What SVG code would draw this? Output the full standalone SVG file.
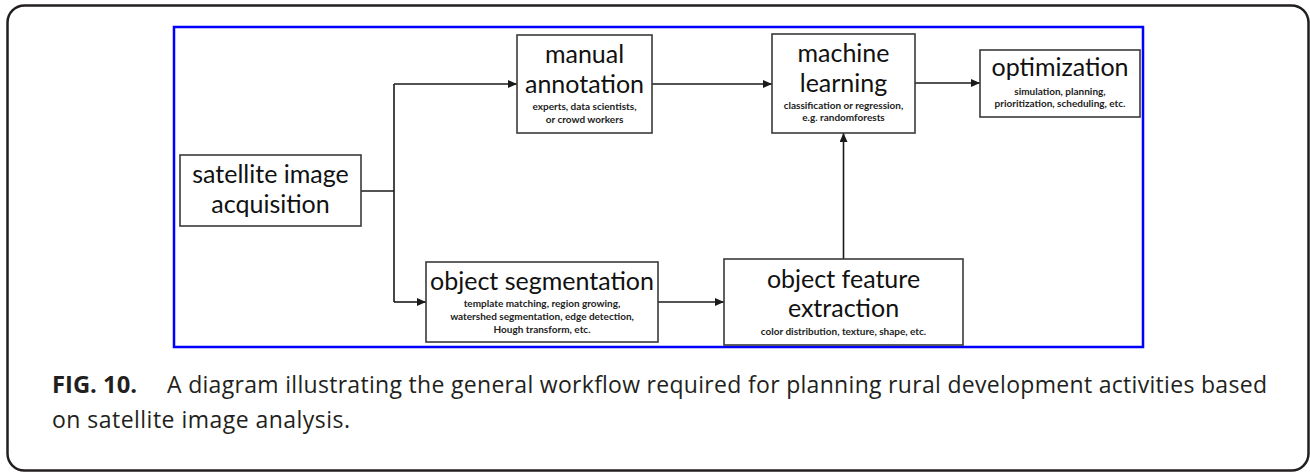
<svg xmlns="http://www.w3.org/2000/svg" width="1310" height="472" viewBox="0 0 1310 472">
<defs>
<marker id="ah" markerWidth="10" markerHeight="8" refX="9" refY="4" orient="auto" markerUnits="userSpaceOnUse">
<path d="M0,0 L9,4 L0,8 Z" fill="#1a1a1a"/>
</marker>
<style>
.box{fill:#fff;stroke:#3a3a3a;stroke-width:1.6}
.t{font-family:Lato,"Open Sans",sans-serif;font-size:25px;fill:#111;text-anchor:middle}
.s{font-family:Lato,"Open Sans",sans-serif;font-size:10px;font-weight:bold;fill:#222;text-anchor:middle}
.c{fill:none;stroke:#1a1a1a;stroke-width:1.6}
.cap{font-family:"Open Sans","Noto Sans",sans-serif;font-size:23px;fill:#231f20}
</style>
</defs>
<rect x="7.5" y="5.5" width="1301" height="465" rx="17" fill="#fff" stroke="#231f20" stroke-width="2.5"/>
<rect x="174" y="27" width="969" height="320" fill="none" stroke="#0000ff" stroke-width="2.5"/>
<g id="connectors">
<polyline class="c" points="361,191 394,191"/>
<polyline class="c" points="394,84 394,302"/>
<polyline class="c" points="394,84 517,84" marker-end="url(#ah)"/>
<polyline class="c" points="394,302 426,302" marker-end="url(#ah)"/>
<polyline class="c" points="652,84 772,84" marker-end="url(#ah)"/>
<polyline class="c" points="915,83 980,83" marker-end="url(#ah)"/>
<polyline class="c" points="658,302 724,302" marker-end="url(#ah)"/>
<polyline class="c" points="843.5,259 843.5,133" marker-end="url(#ah)"/>
</g>
<g id="satellite">
<rect class="box" x="180" y="155" width="181" height="71"/>
<text class="t" x="270.5" y="183">satellite image</text>
<text class="t" x="270.5" y="213">acquisition</text>
</g>
<g id="manual">
<rect class="box" x="517" y="35" width="135" height="98"/>
<text class="t" x="584.5" y="63">manual</text>
<text class="t" x="584.5" y="93">annotation</text>
<text class="s" x="584.5" y="110">experts, data scientists,</text>
<text class="s" x="584.5" y="123">or crowd workers</text>
</g>
<g id="ml">
<rect class="box" x="772" y="34" width="143" height="99"/>
<text class="t" x="843.5" y="62">machine</text>
<text class="t" x="843.5" y="92">learning</text>
<text class="s" x="843.5" y="109">classification or regression,</text>
<text class="s" x="843.5" y="121">e.g. randomforests</text>
</g>
<g id="optimization">
<rect class="box" x="980" y="50" width="160" height="67"/>
<text class="t" x="1060" y="76">optimization</text>
<text class="s" x="1060" y="95">simulation, planning,</text>
<text class="s" x="1060" y="107">prioritization,  scheduling, etc.</text>
</g>
<g id="segmentation">
<rect class="box" x="426" y="262" width="232" height="80"/>
<text class="t" x="542" y="290">object segmentation</text>
<text class="s" x="542" y="307">template matching, region growing,</text>
<text class="s" x="542" y="320">watershed segmentation, edge detection,</text>
<text class="s" x="542" y="333">Hough transform, etc.</text>
</g>
<g id="features">
<rect class="box" x="724" y="259" width="239" height="86"/>
<text class="t" x="843.5" y="288">object feature</text>
<text class="t" x="843.5" y="317">extraction</text>
<text class="s" x="843.5" y="335">color distribution, texture, shape, etc.</text>
</g>
<g id="caption">
<text class="cap" x="52" y="393" font-weight="bold" textLength="85" lengthAdjust="spacingAndGlyphs">FIG. 10.</text>
<text class="cap" x="167" y="393" textLength="1100" lengthAdjust="spacing">A diagram illustrating the general workflow required for planning rural development activities based</text>
<text class="cap" x="52" y="428" textLength="298" lengthAdjust="spacing">on satellite image analysis.</text>
</g>
</svg>
